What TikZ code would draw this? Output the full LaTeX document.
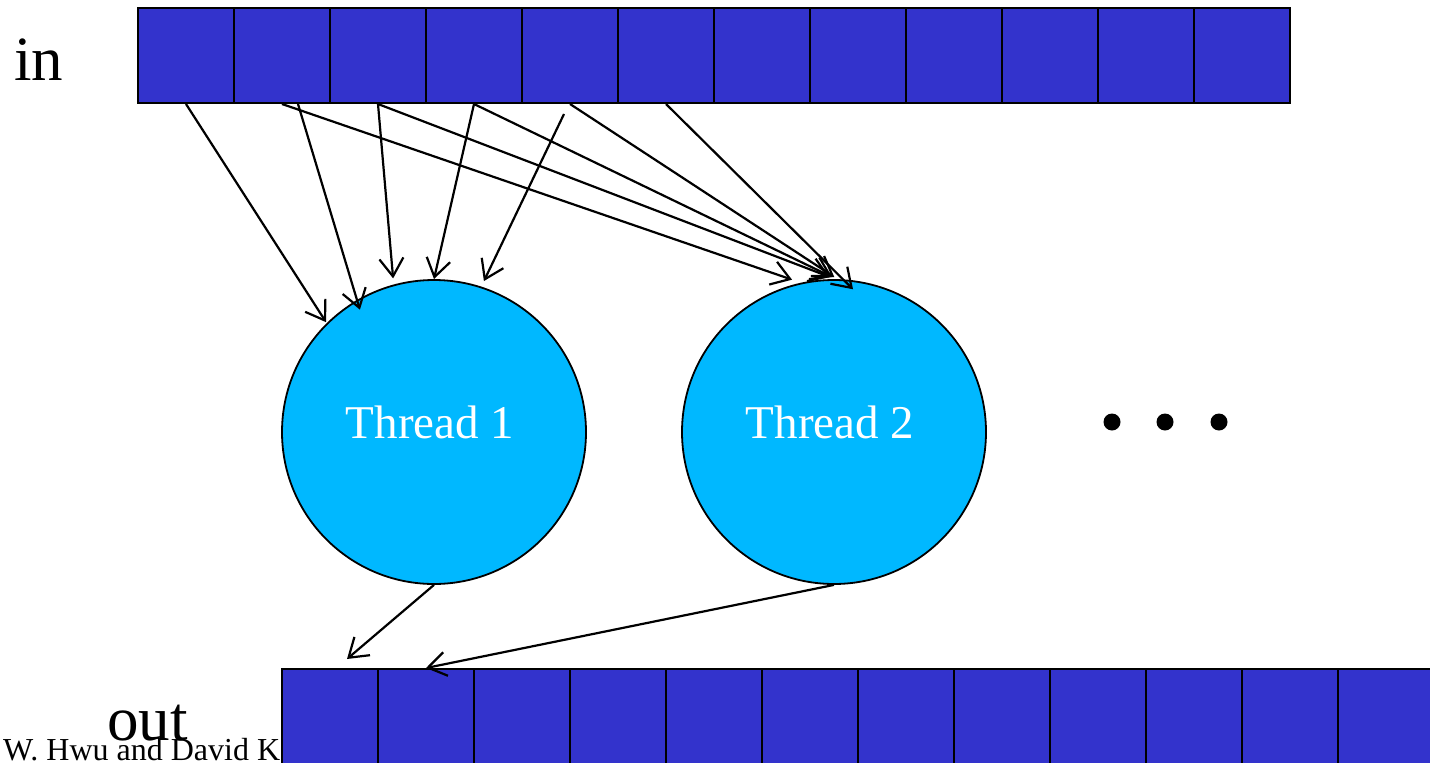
\documentclass[tikz,border=0pt]{standalone}
\usepackage{fontspec}
\setmainfont{Liberation Serif}
\usepackage{xcolor}
\usetikzlibrary{arrows.meta,calc}
\definecolor{cellblue}{RGB}{51,51,204}
\definecolor{threadcyan}{RGB}{0,184,255}
\begin{document}
\begin{tikzpicture}[x=1pt,y=-1pt,
    cell/.style={draw,line width=2pt,fill=cellblue,minimum width=96pt,minimum height=95pt,inner sep=0pt},
    thread/.style={circle,draw,line width=1.8pt,fill=threadcyan,minimum size=304pt,inner sep=0pt},
    feed/.style={line width=2.2pt,-{Straight Barb[length=18pt,width=24pt]}},
    big/.style={inner sep=0pt,font=\fontsize{63}{70}\selectfont}]
    \useasboundingbox (0,0) rectangle (1430,763);
    \clip (0,0) rectangle (1430,763);
    \node[inner sep=0pt,anchor=base west,font=\fontsize{32}{36}\selectfont] (credit) at (3,760) {W. Hwu and David K};
    \node[big,anchor=base west] (inlabel) at (14,80) {in};
    \node[big,anchor=base west] (outlabel) at (107,740) {out};
    \foreach \i in {1,...,12} {
        \node[cell] (in\i) at ({90+96*\i},55.5) {};
        \node[cell] (out\i) at ({234+96*\i},716.5) {};
    }
    \node[thread] (t1) at (434,432) {};
    \node[thread] (t2) at (834,432) {};
    \node[white,inner sep=0pt,anchor=base,font=\fontsize{47}{52}\selectfont] (name1) at (430,438) {Thread 1};
    \node[white,inner sep=0pt,anchor=base,font=\fontsize{47}{52}\selectfont] (name2) at (830,438) {Thread 2};
    \foreach \x in {1112,1165,1219}
        \fill (\x,422) circle (8.5pt);
    \draw[feed] (in1.south) -- ($(t1.center)+(134.5:154pt)$);
    \draw[feed] ([xshift=16pt]in2.south) -- ($(t1.center)+(121.2:143pt)$);
    \draw[feed] (in3.south) -- ($(t1.center)+(104.9:159pt)$);
    \draw[feed] (in4.south) -- ($(t1.center)+(90:153pt)$);
    \draw[feed] ([xshift=-6pt,yshift=-10pt]in5.south) -- ($(t1.center)+(71.7:159pt)$);
    \draw[feed] (in2.south) -- ($(t2.center)+(105.4:158pt)$);
    \draw[feed] (in3.south) -- ($(t2.center)+(91.5:155pt)$);
    \draw[feed] (in4.south) -- ($(t2.center)+(90.7:155pt)$);
    \draw[feed] (in5.south) -- ($(t2.center)+(89.9:155pt)$);
    \draw[feed] (in6.south) -- ($(t2.center)+(82.4:144pt)$);
    \draw[feed] (t1.south) -- ([xshift=17pt,yshift=9pt]out1.north);
    \draw[feed] (t2.south) -- (out2.north);
\end{tikzpicture}
\end{document}
